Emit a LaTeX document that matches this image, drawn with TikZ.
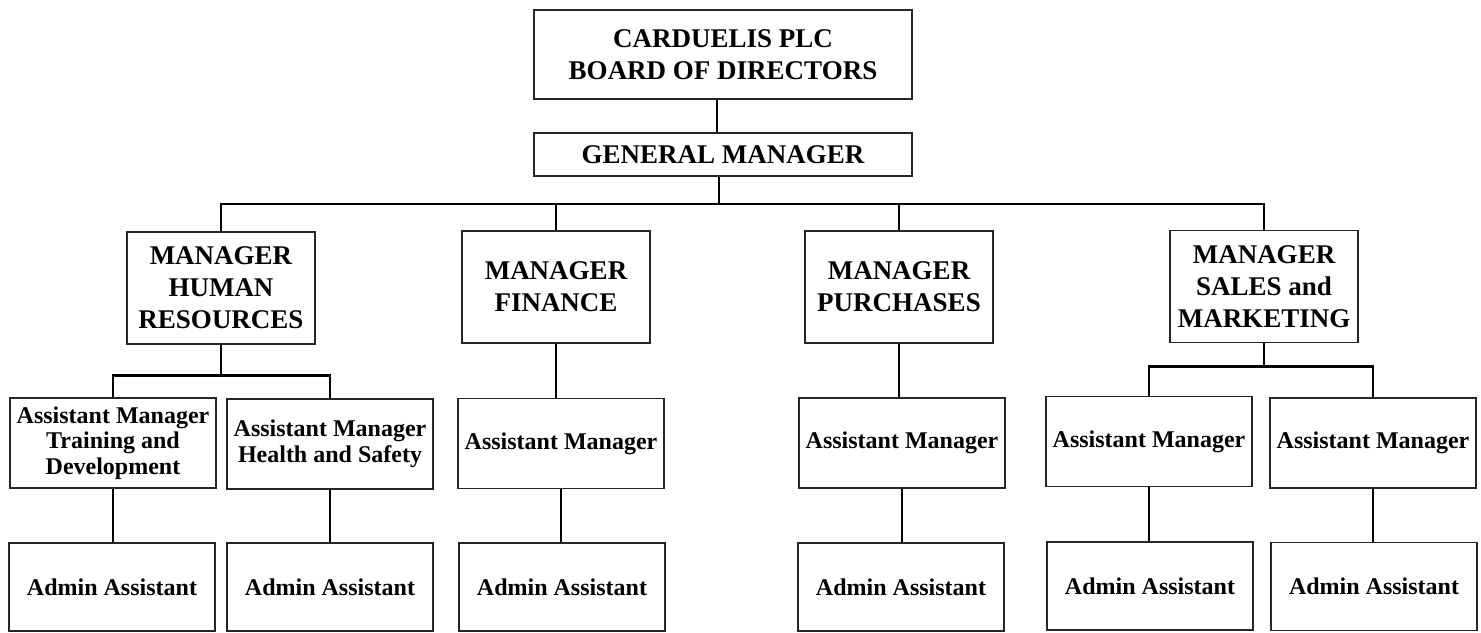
\documentclass[tikz,border=0pt]{standalone}
\usepackage{fontspec}
\setmainfont{Liberation Serif}
\begin{document}
\begin{tikzpicture}[x=0.5pt, y=-0.5pt,
  box/.style={draw=black!85, line width=0.8pt, align=center, inner sep=1pt,
    font=\fontsize{13.5}{16}\selectfont\bfseries},
  mgr/.style={box, minimum width=94pt, minimum height=56pt},
  sub/.style={box, minimum width=103pt, minimum height=45pt,
    font=\fontsize{12}{12.8}\selectfont\bfseries},
  admin/.style={sub, minimum height=44pt},
  link/.style={line width=1.4pt}]
\useasboundingbox (0,0) rectangle (1481,632);

% top
\node[box, minimum width=189pt, minimum height=44.5pt] (board) at (723,54.5) {CARDUELIS PLC\\BOARD OF DIRECTORS};
\node[box, minimum width=189pt, minimum height=21.5pt] (gm) at (723,154.5) {GENERAL MANAGER};
\coordinate (bus) at (719,204);

% managers
\node[mgr] (hr) at (221,288) {MANAGER\\HUMAN\\RESOURCES};
\node[mgr] (fin) at (556,287) {MANAGER\\FINANCE};
\node[mgr] (pur) at (899,287) {MANAGER\\PURCHASES};
\node[mgr] (sm) at (1264,286.5) {MANAGER\\SALES and\\MARKETING};

% assistant managers
\node[sub] (amtd) at (113,443) {Assistant Manager\\Training and\\Development};
\node[sub] (amhs) at (330,444) {Assistant Manager\\Health and Safety};
\node[sub] (amf) at (561,443.5) {Assistant Manager};
\node[sub] (amp) at (902,443) {Assistant Manager};
\node[sub] (ams1) at (1149,441.5) {Assistant Manager};
\node[sub] (ams2) at (1373,443) {Assistant Manager};

% admin
\node[admin] (aa1) at (112,587) {Admin Assistant};
\node[admin] (aa2) at (330,587) {Admin Assistant};
\node[admin] (aa3) at (562,587) {Admin Assistant};
\node[admin] (aa4) at (901,587) {Admin Assistant};
\node[admin] (aa5) at (1150,586) {Admin Assistant};
\node[admin] (aa6) at (1374,586.5) {Admin Assistant};

% links
\draw[link] ([xshift=-3pt]board.south) -- ([xshift=-3pt]gm.north);
\draw[link] (gm.south -| bus) -- (bus);
\draw[link] (hr.north) |- (bus) -| (sm.north);
\draw[link] (fin.north) -- (fin.north |- bus);
\draw[link] (pur.north) -- (pur.north |- bus);

\draw[link] (hr.south) -- ++(0,31) coordinate (hrfork);
\draw[link] (amtd.north) |- (hrfork) -| (amhs.north);
\draw[link] (sm.south) -- ++(0,23) coordinate (smfork);
\draw[link] (ams1.north) |- (smfork) -| (ams2.north);
\draw[link] (fin.south) -- (fin.south |- amf.north);
\draw[link] (pur.south) -- (pur.south |- amp.north);

\foreach \a/\b in {amtd/aa1, amhs/aa2, amf/aa3, amp/aa4, ams1/aa5, ams2/aa6}
  \draw[link] (\a.south) -- (\a.south |- \b.north);
\end{tikzpicture}
\end{document}
